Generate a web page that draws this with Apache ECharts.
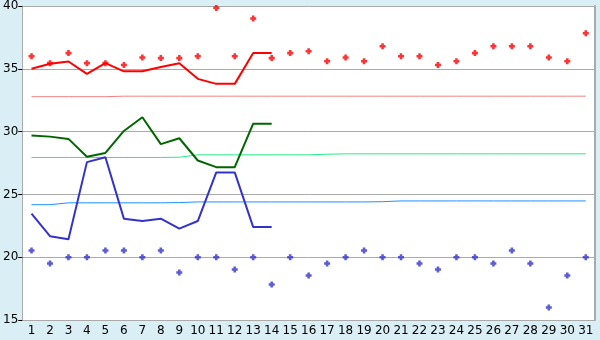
<!DOCTYPE html>
<html><head><meta charset="utf-8">
<script src="https://cdn.jsdelivr.net/npm/echarts@6/dist/echarts.min.js"></script>
<style>html,body{margin:0;padding:0;background:#d9eff5;}#c{width:600px;height:340px;}</style>
</head><body><div id="c"></div>
<script>
const categories = Array.from({length:31},(_,i)=>String(i+1));
const redPoints = [36.0,35.45,36.25,35.45,35.45,35.3,35.9,35.85,35.85,36.0,39.85,36.0,39.0,35.85,36.25,36.4,35.6,35.9,35.6,36.8,36.0,36.0,35.3,35.6,36.25,36.8,36.8,36.8,35.9,35.6,37.83];
const redLine = [35.0,35.4,35.58,34.6,35.45,34.8,34.8,35.15,35.45,34.2,33.8,33.8,36.25,36.25];
const redAvg = [32.78,32.78,32.78,32.78,32.78,32.82,32.82,32.82,32.82,32.82,32.82,32.82,32.82,32.82,32.82,32.82,32.82,32.82,32.82,32.82,32.82,32.82,32.82,32.82,32.82,32.82,32.82,32.82,32.82,32.82,32.82];
const greenLine = [29.68,29.6,29.42,28.0,28.3,30.05,31.14,29.0,29.47,27.7,27.17,27.17,30.63,30.63];
const greenAvg = [27.94,27.94,27.94,27.94,27.94,27.94,27.94,27.94,27.96,28.15,28.15,28.15,28.15,28.15,28.15,28.15,28.2,28.23,28.23,28.23,28.23,28.23,28.23,28.23,28.23,28.23,28.23,28.23,28.23,28.23,28.23];
const blueLine = [23.47,21.67,21.43,27.57,27.96,23.07,22.88,23.07,22.27,22.88,26.75,26.75,22.4,22.4];
const blueAvg = [24.18,24.18,24.33,24.33,24.33,24.33,24.33,24.33,24.35,24.4,24.4,24.4,24.4,24.4,24.4,24.4,24.4,24.4,24.4,24.42,24.48,24.48,24.48,24.48,24.48,24.48,24.48,24.48,24.48,24.48,24.48];
const bluePoints = [20.53,19.5,20.0,20.0,20.53,20.53,20.0,20.53,18.78,20.0,20.0,19.02,20.0,17.83,20.0,18.55,19.5,20.0,20.53,20.0,20.0,19.5,19.02,20.0,20.0,19.5,20.53,19.5,16.0,18.55,20.0];
const yTicks = {min:15, max:40, interval:5};

const plus = 'path://M2,0H5V2H7V5H5V7H2V5H0V2H2Z';
const font = 'DejaVu Sans';
const chart = echarts.init(document.getElementById('c'), null, {renderer:'canvas'});
const lineS = (data, color, w) => ({type:'line', data, symbol:'none', smooth:false, animation:false,
  lineStyle:{color, width:w}, itemStyle:{color}, z: w>1?3:2});
const scat = (data, color) => ({type:'scatter', data, symbol:plus, symbolSize:6, animation:false, itemStyle:{color}, z:4});
chart.setOption({
  backgroundColor:'#d9eff5',
  animation:false,
  grid:{left:20,right:5,top:5,bottom:20,show:true,backgroundColor:'#ffffff',borderWidth:0},
  xAxis:{type:'category',data:categories,boundaryGap:true,
    axisLine:{lineStyle:{color:'#aaaaaa',width:1}},
    axisTick:{alignWithLabel:true,length:5,lineStyle:{color:'#000'}},
    axisLabel:{color:'#000',fontFamily:font,fontSize:12,margin:5,interval:0},
    splitLine:{show:false}},
  yAxis:[{type:'value',min:yTicks.min,max:yTicks.max,interval:yTicks.interval,
    axisLine:{show:true,lineStyle:{color:'#aaaaaa'}},
    axisTick:{show:true,length:4,lineStyle:{color:'#000'}},
    axisLabel:{color:'#000',fontFamily:font,fontSize:12,margin:4},
    splitLine:{lineStyle:{color:'#aaaaaa',width:1}}},
   {type:'value',position:'right',min:yTicks.min,max:yTicks.max,interval:yTicks.interval,
    axisLine:{show:true,lineStyle:{color:'#aaaaaa',width:2}},axisTick:{show:false},axisLabel:{show:false},splitLine:{show:false}}],
  series:[
    lineS(redAvg,'#f08080',1),
    lineS(greenAvg,'#22ee88',1),
    lineS(blueAvg,'#1e90ff',1),
    lineS(redLine,'#ff0000',2),
    lineS(greenLine,'#006600',2),
    lineS(blueLine,'#3333cc',2),
    scat(redPoints,'#ff0000'),
    scat(bluePoints,'#3333cc')
  ]
});
</script></body></html>
